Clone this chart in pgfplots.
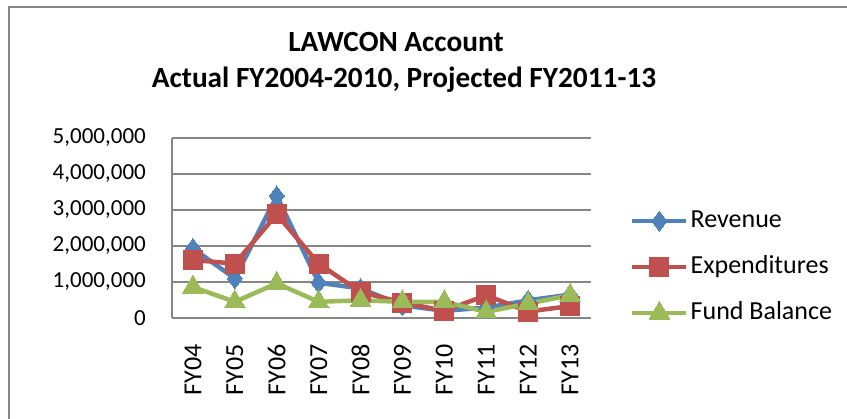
\documentclass[border=0pt]{standalone}
\usepackage{fontspec}
\setmainfont{Carlito}
\usepackage{pgfplots}
\pgfplotsset{compat=1.18}
\definecolor{rev}{RGB}{79,129,189}
\definecolor{expc}{RGB}{192,80,77}
\definecolor{fund}{RGB}{155,187,89}
\definecolor{gridc}{RGB}{134,134,134}
\newcommand\cf{\fontsize{23pt}{27pt}\selectfont}
\newcommand\lf{\fontsize{26pt}{30pt}\selectfont}
\newcommand\tf{\fontsize{29.3pt}{34pt}\selectfont\bfseries}

\begin{document}
\begin{tikzpicture}[x=1pt,y=1pt]
\path[use as bounding box] (0,0) rectangle (847,419);
\draw[gridc, line width=1.7pt] (8.8,0) -- (8.8,412.3) -- (847,412.3);

\node[anchor=base, inner sep=0pt, font=\tf] at (396,367) {LAWCON Account};
\node[anchor=base, inner sep=0pt, font=\tf] at (404,331) {Actual FY2004-2010, Projected FY2011-13};

\begin{axis}[
  at={(172pt,101pt)}, anchor=south west,
  scale only axis, width=419pt, height=180pt,
  xmin=-0.5, xmax=9.5, ymin=0, ymax=5000000,
  scaled y ticks=false,
  axis x line*=bottom, axis y line*=left,
  axis line style={-, draw=gridc, line width=1.3pt},
  ymajorgrids, grid style={draw=gridc, line width=1.3pt},
  tick style={draw=none},
  xtick={0,...,9},
  xticklabels={FY04,FY05,FY06,FY07,FY08,FY09,FY10,FY11,FY12,FY13},
  ytick={0,1000000,2000000,3000000,4000000,5000000},
  yticklabels={0,{1,000,000},{2,000,000},{3,000,000},{4,000,000},{5,000,000}},
  x tick label style={font=\lf, rotate=90, anchor=east, inner sep=0pt, xshift=-26pt},
  y tick label style={font=\cf, anchor=east, inner sep=0pt, xshift=-26pt},
  clip=false,
  legend style={at={(1.093,0.283)}, anchor=west, draw=none, fill=none,
    inner sep=0pt, font=\lf, row sep=18pt,
    nodes={inner sep=2pt, text height=18pt, text depth=6pt}},
  legend cell align=left,
  legend image code/.code={
    \draw[mark repeat=2, mark phase=2, #1] plot coordinates {(0pt,0pt) (27pt,0pt) (54pt,0pt)};
  },
]
\addplot[rev, line width=4.5pt, line join=round, mark=diamond*, mark size=10pt, mark options={solid, line width=0pt}]
  coordinates {(0,1930000) (1,1100000) (2,3390000) (3,980000) (4,820000)
               (5,350000) (6,200000) (7,290000) (8,490000) (9,650000)};
\addlegendentry{Revenue}
\addplot[expc, line width=4.5pt, line join=round, mark=square*, mark size=9.5pt, mark options={solid, line width=0pt}]
  coordinates {(0,1610000) (1,1510000) (2,2880000) (3,1510000) (4,720000)
               (5,430000) (6,200000) (7,630000) (8,180000) (9,330000)};
\addlegendentry{Expenditures}
\addplot[fund, line width=4.5pt, line join=round, mark=triangle*, mark size=12pt, mark options={solid, line width=0pt}]
  coordinates {(0,860000) (1,450000) (2,960000) (3,450000) (4,490000)
               (5,450000) (6,450000) (7,170000) (8,400000) (9,630000)};
\addlegendentry{Fund Balance}
\end{axis}
\end{tikzpicture}
\end{document}
